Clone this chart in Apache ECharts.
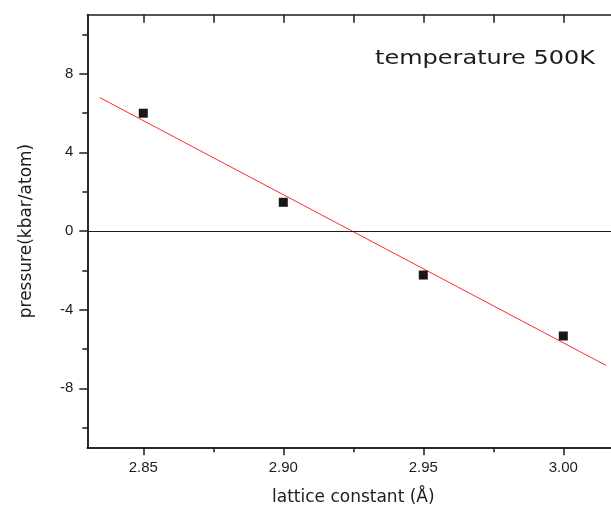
<!DOCTYPE html>
<html>
<head>
<meta charset="utf-8">
<script src="https://cdn.jsdelivr.net/npm/echarts@6/dist/echarts.min.js"></script>
<style>
html,body{margin:0;padding:0;background:#fff;}
#c{width:611px;height:513px;}
</style>
</head>
<body>
<div id="c"></div>
<script>
// Data
const latticeConstant = [2.85, 2.90, 2.95, 3.00];
const pressure = [5.99, 1.46, -2.24, -5.34];
const fitLineX = [2.8345, 3.0152];
const fitLineY = [6.78, -6.83];
const xMajorTicks = [2.85, 2.90, 2.95, 3.00];
const xMinorTicks = [2.875, 2.925, 2.975];
const xTopTicks = [2.85, 2.875, 2.90, 2.925, 2.95, 2.975, 3.00];
const yMajorTicks = [-8, -4, 0, 4, 8];
const yMinorTicks = [-10, -6, -2, 2, 6, 10];
const titleText = 'temperature 500K';
const xName = 'lattice constant (\u00C5)';
const yName = 'pressure(kbar/atom)';

const axisColor = '#1e1b1c';
const chart = echarts.init(document.getElementById('c'));

const baseX = {
  type: 'value', min: 2.83, max: 3.02, gridIndex: 0,
  splitLine: {show: false},
  axisLine: {show: true, onZero: false, lineStyle: {color: axisColor, width: 1.5}}
};
const baseY = {
  type: 'value', min: -11, max: 11, gridIndex: 0,
  splitLine: {show: false},
  axisLine: {show: true, onZero: false, lineStyle: {color: axisColor, width: 1.5}}
};

chart.setOption({
  animation: false,
  backgroundColor: '#ffffff',
  grid: {left: 87.3, top: 14.7, width: 532, height: 432.6, containLabel: false, outerBoundsMode: 'none'},
  xAxis: [
    Object.assign({}, baseX, {
      position: 'bottom',
      name: xName, nameLocation: 'middle', nameGap: 42,
      nameTextStyle: {fontFamily: 'DejaVu Sans', fontSize: 17, color: '#1e1b1c'},
      axisTick: {show: true, inside: false, length: 8, customValues: xMajorTicks, lineStyle: {color: axisColor, width: 1.5}},
      axisLabel: {show: true, customValues: xMajorTicks, margin: 13, fontFamily: 'Liberation Sans', fontSize: 15, color: '#1e1b1c',
        formatter: v => Number(v).toFixed(2)}
    }),
    Object.assign({}, baseX, {
      position: 'bottom',
      axisTick: {show: true, inside: false, length: 5, customValues: xMinorTicks, lineStyle: {color: axisColor, width: 1.5}},
      axisLabel: {show: false}
    }),
    Object.assign({}, baseX, {
      position: 'top',
      axisTick: {show: true, inside: true, length: 8, customValues: xTopTicks, lineStyle: {color: axisColor, width: 1.5}},
      axisLabel: {show: false}
    })
  ],
  yAxis: [
    Object.assign({}, baseY, {
      position: 'left',
      name: yName, nameLocation: 'middle', nameGap: 52, nameRotate: 90,
      nameTextStyle: {fontFamily: 'DejaVu Sans', fontSize: 17, color: '#1e1b1c'},
      axisTick: {show: true, inside: false, length: 8, customValues: yMajorTicks, lineStyle: {color: axisColor, width: 1.5}},
      axisLabel: {show: true, customValues: yMajorTicks, margin: 14, fontFamily: 'Liberation Sans', fontSize: 15, color: '#1e1b1c'}
    }),
    Object.assign({}, baseY, {
      position: 'left', offset: 0,
      axisTick: {show: true, inside: false, length: 5, customValues: yMinorTicks, lineStyle: {color: axisColor, width: 1.5}},
      axisLabel: {show: false}
    })
  ],
  graphic: [{
    type: 'text', x: 375, y: 59, scaleX: 1.2, scaleY: 1,
    style: {text: titleText, fontFamily: 'DejaVu Sans', fontSize: 20, fill: '#1e1b1c', align: 'left', verticalAlign: 'middle'}
  }],
  series: [
    {
      type: 'line', xAxisIndex: 0, yAxisIndex: 0,
      data: fitLineX.map((x, i) => [x, fitLineY[i]]),
      showSymbol: false, symbol: 'none',
      lineStyle: {color: '#ff2a2a', width: 1},
      z: 3
    },
    {
      type: 'scatter', xAxisIndex: 0, yAxisIndex: 0,
      data: latticeConstant.map((x, i) => [x, pressure[i]]),
      symbol: 'rect', symbolSize: 9,
      itemStyle: {color: '#1a1718', opacity: 1},
      z: 4,
      markLine: {
        silent: true, symbol: ['none', 'none'],
        label: {show: false},
        lineStyle: {color: '#1e1b1c', width: 1, type: 'solid'},
        data: [{yAxis: 0}]
      }
    }
  ]
});
</script>
</body>
</html>
